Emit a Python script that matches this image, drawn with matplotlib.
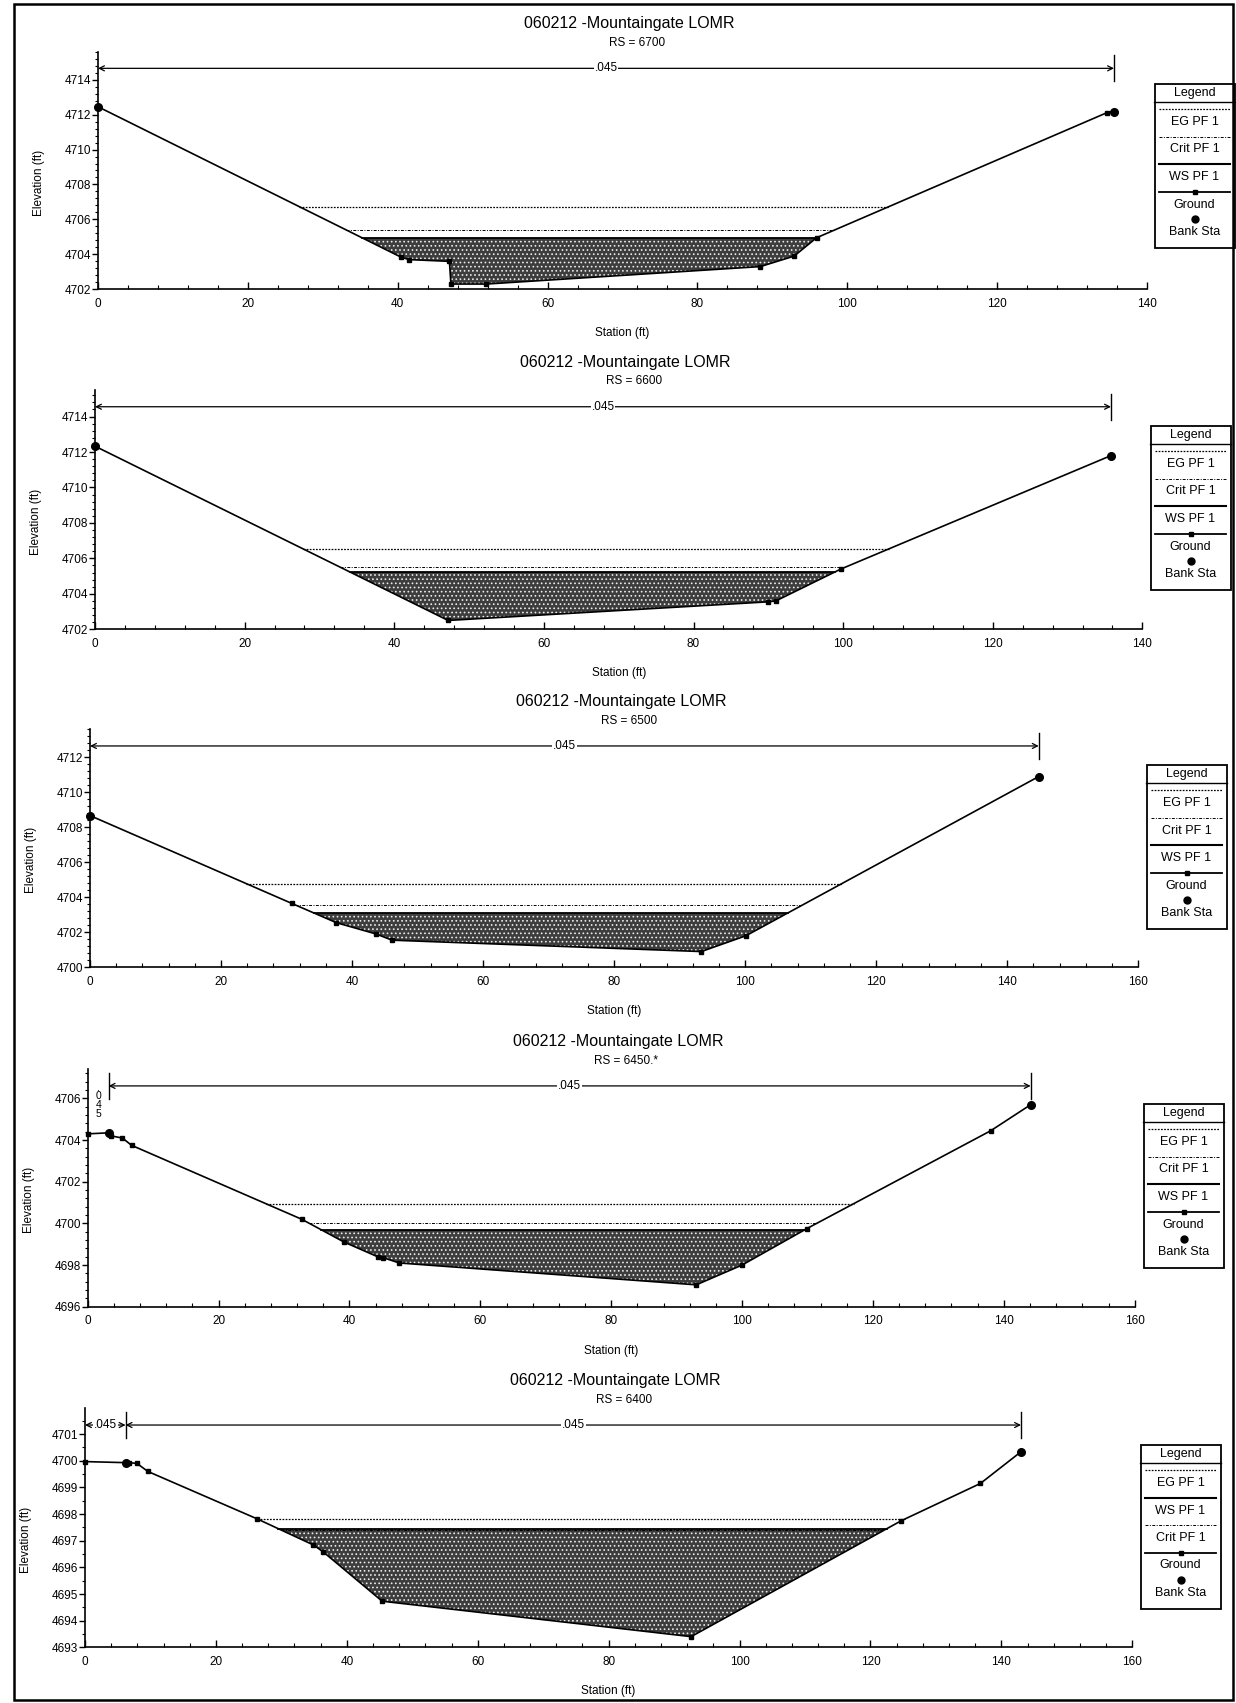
import numpy as np
import matplotlib.pyplot as plt
from matplotlib.patches import Rectangle
from matplotlib.ticker import MultipleLocator, AutoMinorLocator, FormatStrFormatter

plt.rcParams['font.family'] = ['Liberation Sans', 'DejaVu Sans']
plt.rcParams['hatch.linewidth'] = 0.7

W, H = 1236, 1703
title = '060212 -Mountaingate LOMR'

# RS = 6700
rs_6700 = 'RS = 6700'
sta_6700 = [0.0, 40.4, 41.5, 46.9, 47.1, 51.8, 88.4, 92.9, 95.9, 134.6, 135.6]
elev_6700 = [4712.45, 4703.85, 4703.7, 4703.6, 4702.3, 4702.3, 4703.3, 4703.9, 4704.95, 4712.1, 4712.15]
bank_6700 = [0.0, 135.6]
eg_6700, crit_6700, ws_6700 = 4706.73, 4705.4, 4704.95
n_sta_6700 = [0.0, 135.6]
n_val_6700 = ['.045']

# RS = 6600
rs_6600 = 'RS = 6600'
sta_6600 = [0.0, 47.2, 90.0, 91.0, 99.7, 135.8]
elev_6600 = [4712.33, 4702.5, 4703.55, 4703.6, 4705.4, 4711.8]
bank_6600 = [0.0, 135.8]
eg_6600, crit_6600, ws_6600 = 4706.55, 4705.5, 4705.24
n_sta_6600 = [0.0, 135.8]
n_val_6600 = ['.045']

# RS = 6500
rs_6500 = 'RS = 6500'
sta_6500 = [0.0, 30.8, 37.6, 43.7, 46.1, 93.3, 100.1, 144.8]
elev_6500 = [4708.67, 4703.65, 4702.55, 4701.9, 4701.55, 4700.9, 4701.8, 4710.9]
bank_6500 = [0.0, 144.8]
eg_6500, crit_6500, ws_6500 = 4704.78, 4703.56, 4703.1
n_sta_6500 = [0.0, 144.8]
n_val_6500 = ['.045']

# RS = 6450.*
rs_6450 = 'RS = 6450.*'
sta_6450 = [0.0, 3.2, 3.6, 5.3, 6.7, 32.7, 39.2, 44.3, 45.2, 47.6, 93.0, 100.0, 109.9, 138.0, 144.1]
elev_6450 = [4704.3, 4704.35, 4704.2, 4704.1, 4703.75, 4700.2, 4699.1, 4698.4, 4698.35, 4698.1,
             4697.05, 4698.0, 4699.75, 4704.45, 4705.7]
bank_6450 = [3.2, 144.1]
eg_6450, crit_6450, ws_6450 = 4700.95, 4700.0, 4699.7
n_sta_6450 = [0.0, 3.2, 144.1]
n_val_6450 = ['.045', '.045']

# RS = 6400
rs_6400 = 'RS = 6400'
sta_6400 = [0.0, 6.2, 6.75, 7.95, 9.6, 26.3, 34.9, 36.4, 45.4, 92.6, 124.7, 136.8, 143.0]
elev_6400 = [4699.97, 4699.93, 4699.93, 4699.9, 4699.6, 4697.82, 4696.84, 4696.58, 4694.73,
             4693.4, 4697.75, 4699.15, 4700.34]
bank_6400 = [6.2, 143.0]
eg_6400, crit_6400, ws_6400 = 4697.82, 4697.4, 4697.45
n_sta_6400 = [0.0, 6.2, 143.0]
n_val_6400 = ['.045', '.045']

legend_main = ['EG PF 1', 'Crit PF 1', 'WS PF 1', 'Ground', 'Bank Sta']
legend_6400 = ['EG PF 1', 'WS PF 1', 'Crit PF 1', 'Ground', 'Bank Sta']

panels = [
    (rs_6700, sta_6700, elev_6700, bank_6700, eg_6700, crit_6700, ws_6700, n_sta_6700, n_val_6700, legend_main),
    (rs_6600, sta_6600, elev_6600, bank_6600, eg_6600, crit_6600, ws_6600, n_sta_6600, n_val_6600, legend_main),
    (rs_6500, sta_6500, elev_6500, bank_6500, eg_6500, crit_6500, ws_6500, n_sta_6500, n_val_6500, legend_main),
    (rs_6450, sta_6450, elev_6450, bank_6450, eg_6450, crit_6450, ws_6450, n_sta_6450, n_val_6450, legend_main),
    (rs_6400, sta_6400, elev_6400, bank_6400, eg_6400, crit_6400, ws_6400, n_sta_6400, n_val_6400, legend_6400),
]

# page layout in pixels: axes box (left, top, right, bottom), y range, x max, y step, legend (left, top)
layout = [
    dict(box=(98, 51.7, 1147, 289.3), ylim=(4702, 4715.6), xmax=140, ystep=2, leg=(1154, 83)),
    dict(box=(95, 390, 1142.4, 629.3), ylim=(4702, 4715.5), xmax=140, ystep=2, leg=(1150, 425)),
    dict(box=(90, 729.3, 1138.3, 967.3), ylim=(4700, 4713.6), xmax=160, ystep=2, leg=(1146, 764)),
    dict(box=(87.7, 1069.3, 1134.7, 1306.7), ylim=(4696, 4707.4), xmax=160, ystep=2, leg=(1143, 1103)),
    dict(box=(85, 1408.3, 1132.3, 1647.3), ylim=(4693, 4701.97), xmax=160, ystep=1, leg=(1140, 1444)),
]


def px_rect(l, t, r, b):
    return [l / W, 1 - b / H, (r - l) / W, (b - t) / H]


def water_edges(sta, elev, level):
    """stations where a water level meets the ground on each side of the low point"""
    i_min = int(np.argmin(elev))
    xl = sta[0]
    for i in range(i_min, 0, -1):
        if elev[i - 1] >= level:
            xl = np.interp(level, [elev[i], elev[i - 1]], [sta[i], sta[i - 1]])
            break
    xr = sta[-1]
    for i in range(i_min, len(sta) - 1):
        if elev[i + 1] >= level:
            xr = np.interp(level, [elev[i], elev[i + 1]], [sta[i], sta[i + 1]])
            break
    return xl, xr


EG_LS = (0, (1.4, 1.1))
CRIT_LS = (0, (3, 1.5, 1, 1.5))


def draw_legend(left, top, order):
    w, h = 81, 165
    lax = fig.add_axes(px_rect(left, top, left + w, top + h))
    lax.set_xlim(0, w)
    lax.set_ylim(h, 0)
    lax.axis('off')
    lax.add_patch(Rectangle((0.5, 0.5), w - 1, h - 1, fill=False, lw=1.3, ec='black', clip_on=False))
    lax.plot([0, w], [19, 19], color='black', lw=1.0, clip_on=False)
    lax.text(w / 2, 10, 'Legend', ha='center', va='center', fontsize=9)
    for k, name in enumerate(order):
        ys = 26 + 27.5 * k
        xs = [5, w - 5]
        if name == 'EG PF 1':
            lax.plot(xs, [ys, ys], color='black', lw=0.9, ls=EG_LS)
        elif name == 'Crit PF 1':
            lax.plot(xs, [ys, ys], color='black', lw=0.7, ls=CRIT_LS)
        elif name == 'WS PF 1':
            lax.plot(xs, [ys, ys], color='black', lw=1.5)
        elif name == 'Ground':
            lax.plot(xs, [ys, ys], color='black', lw=1.3)
            lax.plot([w / 2], [ys], 's', color='black', ms=3.5)
        else:
            lax.plot([w / 2], [ys], 'o', color='black', ms=5)
        lax.text(w / 2, ys + 13, name, ha='center', va='center', fontsize=9)


fig = plt.figure(figsize=(W / 100, H / 100), dpi=100)

for (rs, sta, elev, banks, eg, crit, ws, n_sta, n_val, order), lay in zip(panels, layout):
    l, t, r, b = lay['box']
    ax = fig.add_axes(px_rect(l, t, r, b))
    sta = np.asarray(sta)
    elev = np.asarray(elev)
    y0, y1 = lay['ylim']
    ax.set_xlim(0, lay['xmax'])
    ax.set_ylim(y0, y1)

    # water surface area
    xl, xr = water_edges(sta, elev, ws)
    inside = (sta > xl) & (sta < xr)
    xs = np.concatenate([[xl], sta[inside], [xr]])
    ys = np.concatenate([[ws], elev[inside], [ws]])
    ax.fill_between(xs, ys, ws, facecolor='0.24', edgecolor='0.92', hatch='....', lw=0, zorder=1)
    ax.plot([xl, xr], [ws, ws], color='black', lw=1.3, zorder=3)

    xl, xr = water_edges(sta, elev, crit)
    ax.plot([xl, xr], [crit, crit], color='black', lw=0.7, ls=CRIT_LS, zorder=3)
    xl, xr = water_edges(sta, elev, eg)
    ax.plot([xl, xr], [eg, eg], color='black', lw=0.9, ls=EG_LS, zorder=3)

    # ground and bank stations
    ax.plot(sta, elev, color='black', lw=1.2, marker='s', ms=3.3, zorder=4, clip_on=False)
    ax.plot(banks, np.interp(banks, sta, elev), 'o', color='black', ms=5.5, zorder=5, clip_on=False)

    # manning's n bar
    ya = y1 - 0.07 * (y1 - y0)
    dv = 0.055 * (y1 - y0)
    for xv in n_sta[1:]:
        ax.plot([xv, xv], [ya - dv, ya + dv], color='black', lw=1.0, clip_on=False)
    px_per_ft = (r - l) / lay['xmax']
    for xa, xb, lbl in zip(n_sta[:-1], n_sta[1:], n_val):
        if (xb - xa) * px_per_ft < 30:
            ax.text((xa + xb) / 2, ya + 0.25 * dv, '.\n0\n4\n5', ha='center', va='top',
                    fontsize=7.5, linespacing=0.85)
        else:
            ax.annotate('', xy=(xa, ya), xytext=(xb, ya),
                        arrowprops=dict(arrowstyle='<->', lw=0.9, color='black',
                                        shrinkA=0, shrinkB=0, mutation_scale=9))
            ax.text((xa + xb) / 2, ya, lbl, ha='center', va='center', fontsize=8.5,
                    bbox=dict(facecolor='white', edgecolor='none', pad=0.6))

    # axes styling
    ax.xaxis.set_major_locator(MultipleLocator(20))
    ax.xaxis.set_minor_locator(MultipleLocator(4))
    ax.yaxis.set_major_locator(MultipleLocator(lay['ystep']))
    ax.yaxis.set_minor_locator(AutoMinorLocator(5 if lay['ystep'] == 2 else 2))
    ax.yaxis.set_major_formatter(FormatStrFormatter('%d'))
    ax.tick_params(axis='x', which='major', direction='in', length=5, width=1, labelsize=8.5, pad=6)
    ax.tick_params(axis='x', which='minor', direction='in', length=3, width=0.8)
    ax.tick_params(axis='y', which='major', direction='out', length=4, width=1, labelsize=8.5, pad=1)
    ax.tick_params(axis='y', which='minor', direction='out', length=2, width=0.8)
    for s in ['top', 'right']:
        ax.spines[s].set_visible(False)
    for s in ['left', 'bottom']:
        ax.spines[s].set_linewidth(1.2)

    cx = (l + r) / 2
    fig.text((cx + 7) / W, 1 - (t - 28) / H, title, ha='center', va='center', fontsize=11.5)
    fig.text((cx + 15) / W, 1 - (t - 8.5) / H, rs, ha='center', va='center', fontsize=8.5)
    fig.text(cx / W, 1 - (b + 44) / H, 'Station (ft)', ha='center', va='center', fontsize=8.5)
    fig.text((l - 59) / W, 1 - ((t + b) / 2 + 12) / H, 'Elevation (ft)', rotation=90,
             ha='center', va='center', fontsize=8.5)

    draw_legend(lay['leg'][0], lay['leg'][1], order)

# page frame
fig.add_artist(Rectangle((14 / W, 1 - 1700 / H), (1233 - 14) / W, (1700 - 4) / H,
                         transform=fig.transFigure, fill=False, lw=1.8, ec='black'))

fig.savefig('out.png', dpi=100)
